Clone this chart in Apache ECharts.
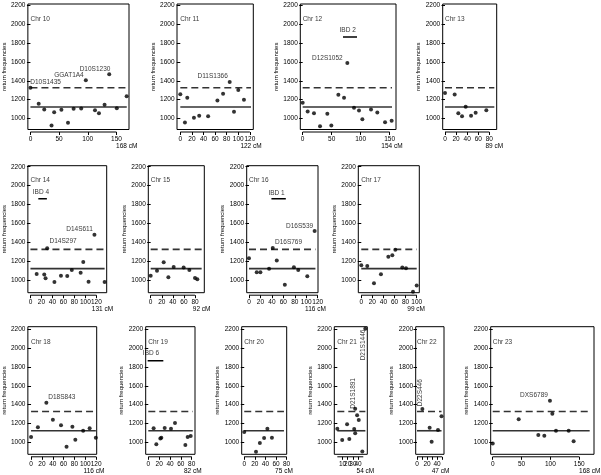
<!DOCTYPE html>
<html><head><meta charset="utf-8">
<script src="https://cdn.jsdelivr.net/npm/echarts@6/dist/echarts.min.js"></script>
<style>html,body{margin:0;padding:0;background:#fff}#c{width:601px;height:475px}</style>
</head><body><div id="c"></div>
<script>
// ---------------- data ----------------
const chromosomes = ['10','11','12','13','14','15','16','17','18','19','20','21','22','23'];
const lengthsCM   = [168,122,154,89,131,92,116,99,116,82,75,54,47,168];
const meanFreq = 1123;
const thresholdFreq = 1327;
const yTicks = [1000,1200,1400,1600,1800,2000,2200];

const cm10 = [0,14.4,24.1,36.8,41.4,54,65.5,75.3,88.5,96.6,112.6,119.5,129.3,137.4,150.6,167.8];
const rf10 = [1327,1156,1096,925,1067,1092,954,1103,1107,1408,1089,1057,1146,1472,1110,1238];
const cm11 = [0,8,12,23.5,32.6,48,64,73.8,85.2,92.6,100,109.8];
const rf11 = [1259,957,1220,1007,1030,1025,1192,1263,1387,1071,1302,1199];
const cm12 = [0,8.6,19.5,29.9,42.5,49.4,61.5,71.3,77,88.5,97.1,102.9,117.8,128.7,142,153.4];
const rf12 = [1167,1075,1057,918,1050,925,1252,1220,1590,1114,1085,993,1096,1064,961,975];
const cm13 = [0,17.4,24,30.7,37.3,47,55.3,74.6];
const rf13 = [1270,1256,1057,1025,1124,1028,1060,1089];
const cm14 = [11.3,25.1,27.5,30.4,43.6,55.5,66.9,75.2,91.3,96.1,105.7,116.4,134.9];
const rf14 = [1067,1060,1021,1340,982,1049,1046,1109,1081,1194,986,1482,983];
const cm15 = [0,11.4,23.5,31.9,41.5,59.5,69.8,80,84.2];
const rf15 = [1049,1102,1190,1032,1141,1134,1109,1025,1011];
const cm16 = [0,13.5,19.9,35.1,41.5,48.5,62.6,78.4,86,101.8,114.6];
const rf16 = [1232,1084,1084,1123,1341,1208,954,1137,1109,1042,1521];
const cm17 = [0,10.8,22.9,35.5,48.8,56,61.4,74,80.7,93.3,100];
const rf17 = [1158,1151,968,1063,1250,1264,1324,1134,1127,878,944];
const cm18 = [0,12.6,28.2,40.2,55.2,65.4,76.2,81.6,96,108,119.4];
const rf18 = [1057,1159,1421,1241,1181,954,1166,1028,1124,1149,1050];
const cm19 = [9.8,14.8,22.2,24,30.2,41.8,49.2,68.3,72.6,78.2];
const rf19 = [1149,979,1042,1050,1152,1145,1205,972,1057,1067];
const cm20 = [0,22.2,29.5,37.5,43.7,52.3];
const rf20 = [1110,901,993,1046,1145,1050];
const cm21 = [0,9.4,18.8,23.1,32.5,34.4,34.4,38.1,41.3,48.1,53.8];
const rf21 = [1145,1025,1191,1035,1142,1357,1096,1287,1237,904,2205];
const cm22 = [10.7,25.3,29.3,42,49];
const rf22 = [1354,1156,1007,1130,1276];
const cm23 = [0,45,79,89.4,99.2,103.3,109.6,131.6,140.2];
const rf23 = [989,1244,1078,1071,1442,1304,1124,1124,1011];

// marker labels [cM, frequency, text]
const markers10 = [[26.4,1387,'D10S1435'],[67.2,1465,'GGAT1A4'],[112.6,1529,'D10S1230']];
const markers11 = [[55.8,1448,'D11S1366']];
const markers12 = [[42.5,1639,'D12S1052']];
const markers14 = [[59.4,1408,'D14S297'],[89.3,1538,'D14S611']];
const markers16 = [[88.3,1570,'D16S539'],[69,1398,'D16S769']];
const markers18 = [[56.7,1478,'D18S843']];
const markers21 = [[49.4,2034,'D21S1446'],[30.6,1520,'D21S1891']];
const markers22 = [[6.7,1527,'D22S446']];
const markers23 = [[71.5,1496,'DXS6789']];

// IBD segments [start cM, end cM, frequency] and their labels
const ibdBar12 = [69.5,93.7,1867];  const ibdText12 = [77.6,1938,'IBD 2'];
const ibdBar14 = [14.3,29.9,1862];  const ibdText14 = [19.1,1929,'IBD 4'];
const ibdBar16 = [39.2,64.3,1862];  const ibdText16 = [48.2,1925,'IBD 1'];
const ibdBar19 = [-1.2,27.7,1867];  const ibdText19 = [4.9,1945,'IBD 6'];

// x tick values / labels
const xTicks50  = [0,50,100,150];
const xTicks120 = [0,20,40,60,80,100,120];
const xTicks80  = [0,20,40,60,80];
const xTicks100 = [0,20,40,60,80,100];
const xTicks21  = [0,10,20,30,40,50];
const xTicks22  = [0,10,20,30,40,50];
const xLabels22 = [0,20,40];

// ---------------- layout ----------------
const FONT = '"Liberation Sans", Arial, Helvetica, sans-serif';
const rows = [
  {top:4,     h:125.5, ymin:883, ymax:2218},
  {top:165.7, h:127,   ymin:869, ymax:2211},
  {top:326.7, h:127.6, ymin:873, ymax:2228}
];
const chrLabelFreq = 2060;
const panels = [
  {cm:cm10,rf:rf10,row:0,l:26.7, r:129,  xmin:-4.5,xmax:171.9,ticks:xTicks50, markers:markers10},
  {cm:cm11,rf:rf11,row:0,l:177,  r:253.3,xmin:-5.7,xmax:125.9,ticks:xTicks120,markers:markers11},
  {cm:cm12,rf:rf12,row:0,l:300.3,r:396,  xmin:-4.1,xmax:160.9,ticks:xTicks50, markers:markers12,ibd:ibdBar12,ibdT:ibdText12},
  {cm:cm13,rf:rf13,row:0,l:442.7,r:496.7,xmin:-4.2,xmax:93.3, ticks:xTicks80},
  {cm:cm14,rf:rf14,row:1,l:26.7, r:106.7,xmin:-4.7,xmax:138.7,ticks:xTicks120,markers:markers14,ibd:ibdBar14,ibdT:ibdText14},
  {cm:cm15,rf:rf15,row:1,l:148.3,r:204.3,xmin:-4.3,xmax:96.8, ticks:xTicks80},
  {cm:cm16,rf:rf16,row:1,l:246.7,r:318,  xmin:-4,  xmax:120.5,ticks:xTicks120,markers:markers16,ibd:ibdBar16,ibdT:ibdText16},
  {cm:cm17,rf:rf17,row:1,l:358.3,r:419.3,xmin:-5.4,xmax:104.7,ticks:xTicks100},
  {cm:cm18,rf:rf18,row:2,l:26,   r:96.7, xmin:-5.9,xmax:121,  ticks:xTicks120,markers:markers18},
  {cm:cm19,rf:rf19,row:2,l:145.7,r:195,  xmin:-4.8,xmax:86.1, ticks:xTicks80, ibd:ibdBar19,ibdT:ibdText19},
  {cm:cm20,rf:rf20,row:2,l:241.7,r:286.7,xmin:-4.8,xmax:80.2, ticks:xTicks80},
  {cm:cm21,rf:rf21,row:2,l:334.3,r:367.3,xmin:-5.8,xmax:57.7, ticks:xTicks21, markers:markers21,rot:true},
  {cm:cm22,rf:rf22,row:2,l:415.7,r:444,  xmin:-2.6,xmax:54,   ticks:xTicks22, labels:xLabels22,markers:markers22,rot:true},
  {cm:cm23,rf:rf23,row:2,l:490.7,r:594,  xmin:-3.5,xmax:175.5,ticks:xTicks50, markers:markers23}
];

const plain = v => String(v);
const grid=[], xAxis=[], yAxis=[], series=[];
panels.forEach((p,i)=>{
  const R = rows[p.row];
  grid.push({left:p.l, top:R.top, width:p.r-p.l, height:R.h, show:true,
    borderColor:'#000', borderWidth:1, backgroundColor:'transparent'});
  xAxis.push({gridIndex:i, type:'value', min:p.xmin, max:p.xmax, position:'bottom', offset:2.5,
    axisLine:{show:false}, splitLine:{show:false},
    axisTick:{show:true, length:3, customValues:p.ticks, lineStyle:{color:'#000',width:1}},
    axisLabel:{customValues:p.labels||p.ticks, formatter:plain, fontSize:6.5, margin:3.5, color:'#000', fontFamily:FONT}});
  yAxis.push({gridIndex:i, type:'value', min:R.ymin, max:R.ymax,
    axisLine:{show:false}, splitLine:{show:false},
    axisTick:{show:true, length:3.5, customValues:yTicks, lineStyle:{color:'#000',width:1}},
    axisLabel:{customValues:yTicks, formatter:plain, fontSize:6.5, margin:2.5, color:'#000', fontFamily:FONT},
    name:'return frequencies', nameLocation:'middle', nameGap:19,
    nameTextStyle:{fontSize:6, color:'#000', fontFamily:FONT}});
  const L = lengthsCM[i];
  const end = Math.max(L, Math.max(...p.cm));
  series.push({type:'line', xAxisIndex:i, yAxisIndex:i, data:[[0,meanFreq],[end,meanFreq]],
    symbol:'none', silent:true, lineStyle:{color:'#333', width:1.6}, z:2});
  series.push({type:'line', xAxisIndex:i, yAxisIndex:i, data:[[0,thresholdFreq],[end,thresholdFreq]],
    symbol:'none', silent:true, lineStyle:{color:'#333', width:1.6, type:[7,4]}, z:2});
  series.push({type:'scatter', xAxisIndex:i, yAxisIndex:i, data:p.cm.map((x,j)=>[x,p.rf[j]]),
    symbol:'circle', symbolSize:4, itemStyle:{color:'#000'}, z:5, clip:false});
  series.push({type:'scatter', xAxisIndex:i, yAxisIndex:i, data:[[0,chrLabelFreq,'Chr '+chromosomes[i]]],
    symbolSize:0, silent:true, z:6,
    label:{show:true, position:'right', distance:0, formatter:q=>q.value[2], fontSize:6.5, color:'#000', fontFamily:FONT}});
  if (p.markers) {
    series.push({type:'scatter', xAxisIndex:i, yAxisIndex:i, data:p.markers, symbolSize:0, silent:true, z:6, clip:false,
      label:{show:true, position:'inside', rotate:p.rot?90:0, formatter:q=>q.value[2], fontSize:6.5, color:'#000', fontFamily:FONT}});
  }
  if (p.ibd) {
    series.push({type:'line', xAxisIndex:i, yAxisIndex:i, data:[[p.ibd[0],p.ibd[2]],[p.ibd[1],p.ibd[2]]],
      symbol:'none', silent:true, clip:false, lineStyle:{color:'#000', width:1.5}, z:3});
    series.push({type:'scatter', xAxisIndex:i, yAxisIndex:i, data:[p.ibdT], symbolSize:0, silent:true, z:6, clip:false,
      label:{show:true, position:'inside', formatter:q=>q.value[2], fontSize:6.5, color:'#000', fontFamily:FONT}});
  }
});

const chart = echarts.init(document.getElementById('c'), null, {renderer:'canvas'});
chart.setOption({animation:false, backgroundColor:'#fff', textStyle:{fontFamily:FONT}, grid, xAxis, yAxis, series});

const graphic = [];
panels.forEach((p,i)=>{
  const R = rows[p.row];
  const a = chart.convertToPixel({gridIndex:i}, [p.ticks[0], R.ymin]);
  const b = chart.convertToPixel({gridIndex:i}, [p.ticks[p.ticks.length-1], R.ymin]);
  graphic.push({type:'line', shape:{x1:a[0], y1:a[1]+2.5, x2:b[0], y2:a[1]+2.5}, style:{stroke:'#000', lineWidth:1}, silent:true});
  const c = chart.convertToPixel({gridIndex:i}, [lengthsCM[i], R.ymin]);
  graphic.push({type:'text', x:c[0], y:c[1]+16.5, silent:true,
    style:{text:lengthsCM[i]+' cM', fontSize:6.5, fill:'#000', font:'6.5px '+FONT, textAlign:'center', textVerticalAlign:'middle'}});
});
chart.setOption({graphic});
</script></body></html>
